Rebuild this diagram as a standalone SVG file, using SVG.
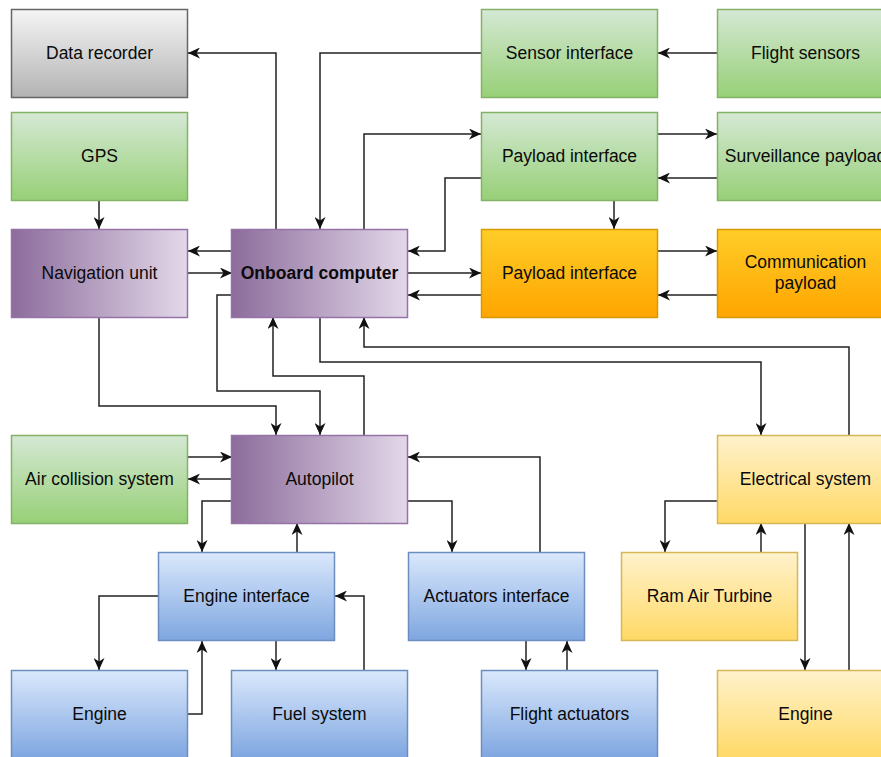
<svg xmlns="http://www.w3.org/2000/svg" width="881" height="757" viewBox="0 0 881 757">
  <defs>
    <linearGradient id="gGray" x1="0" y1="0" x2="0" y2="1">
      <stop offset="0" stop-color="#f5f5f5"/><stop offset="1" stop-color="#b3b3b3"/>
    </linearGradient>
    <linearGradient id="gGreen" x1="0" y1="0" x2="0" y2="1">
      <stop offset="0" stop-color="#d5e8d4"/><stop offset="1" stop-color="#97d077"/>
    </linearGradient>
    <linearGradient id="gPurple" x1="0" y1="0" x2="1" y2="0">
      <stop offset="0" stop-color="#8c6c9c"/><stop offset="1" stop-color="#e3d8e9"/>
    </linearGradient>
    <linearGradient id="gOrange" x1="0" y1="0" x2="0" y2="1">
      <stop offset="0" stop-color="#ffcd28"/><stop offset="1" stop-color="#ffa500"/>
    </linearGradient>
    <linearGradient id="gBlue" x1="0" y1="0" x2="0" y2="1">
      <stop offset="0" stop-color="#dae8fc"/><stop offset="1" stop-color="#7ea6e0"/>
    </linearGradient>
    <linearGradient id="gYellow" x1="0" y1="0" x2="0" y2="1">
      <stop offset="0" stop-color="#fff2cc"/><stop offset="1" stop-color="#ffd966"/>
    </linearGradient>
    <marker id="arrow" markerUnits="userSpaceOnUse" markerWidth="13" markerHeight="11" refX="12" refY="5.5" orient="auto">
      <path d="M0,0 L12,5.5 L0,11 L3.5,5.5 z" fill="#111"/>
    </marker>
  </defs>
  <style>
    .box { stroke-width: 1.5; }
    .gray { fill: url(#gGray); stroke: #666666; }
    .green { fill: url(#gGreen); stroke: #82b366; }
    .purple { fill: url(#gPurple); stroke: #9673a6; }
    .orange { fill: url(#gOrange); stroke: #d79b00; }
    .blue { fill: url(#gBlue); stroke: #6c8ebf; }
    .yellow { fill: url(#gYellow); stroke: #d6b656; }
    text { font-family: "Liberation Sans", Arial, sans-serif; font-size: 17.5px; fill: #0a0a0a; text-anchor: middle; }
    .bold { font-weight: bold; }
    .edge { fill: none; stroke: #222; stroke-width: 1.5; marker-end: url(#arrow); }
  </style>

  <!-- connectors -->
  <g id="connectors">
    <path class="edge" d="M276,229 V53 H188"/>
    <path class="edge" d="M481,53 H320 V229"/>
    <path class="edge" d="M364,229 V134 H481"/>
    <path class="edge" d="M717,53 H658"/>
    <path class="edge" d="M658,134 H717"/>
    <path class="edge" d="M717,178 H658"/>
    <path class="edge" d="M481,178 H445 V251 H408"/>
    <path class="edge" d="M614,200 V229"/>
    <path class="edge" d="M408,273 H481"/>
    <path class="edge" d="M481,295 H408"/>
    <path class="edge" d="M658,251 H717"/>
    <path class="edge" d="M717,295 H658"/>
    <path class="edge" d="M232,251 H188"/>
    <path class="edge" d="M188,273 H232"/>
    <path class="edge" d="M99,200 V229"/>
    <path class="edge" d="M99,317 V406 H276 V435"/>
    <path class="edge" d="M232,295 H217 V391 H320 V435"/>
    <path class="edge" d="M364,435 V376 H273 V317"/>
    <path class="edge" d="M849,435 V347 H364 V317"/>
    <path class="edge" d="M320,317 V362 H761 V435"/>
    <path class="edge" d="M188,457 H232"/>
    <path class="edge" d="M232,479 H188"/>
    <path class="edge" d="M232,501 H202 V552"/>
    <path class="edge" d="M297,552 V523"/>
    <path class="edge" d="M540,552 V457 H408"/>
    <path class="edge" d="M408,501 H452 V552"/>
    <path class="edge" d="M158,596 H99 V670"/>
    <path class="edge" d="M188,714 H202 V641"/>
    <path class="edge" d="M276,641 V670"/>
    <path class="edge" d="M364,670 V596 H335"/>
    <path class="edge" d="M526,641 V670"/>
    <path class="edge" d="M567,670 V641"/>
    <path class="edge" d="M717,501 H665 V552"/>
    <path class="edge" d="M761,552 V523"/>
    <path class="edge" d="M805,523 V670"/>
    <path class="edge" d="M849,670 V523"/>
  </g>

  <!-- top row -->
  <g id="data-recorder">
    <rect class="box gray" x="11.5" y="9.5" width="176" height="88"/>
    <text x="99.5" y="58.5">Data recorder</text>
  </g>
  <g id="sensor-interface">
    <rect class="box green" x="481.5" y="9.5" width="176" height="88"/>
    <text x="569.5" y="58.5">Sensor interface</text>
  </g>
  <g id="flight-sensors">
    <rect class="box green" x="717.5" y="9.5" width="176" height="88"/>
    <text x="805.5" y="58.5">Flight sensors</text>
  </g>

  <!-- second row -->
  <g id="gps">
    <rect class="box green" x="11.5" y="112.5" width="176" height="88"/>
    <text x="99.5" y="161.5">GPS</text>
  </g>
  <g id="payload-interface-surveillance">
    <rect class="box green" x="481.5" y="112.5" width="176" height="88"/>
    <text x="569.5" y="161.5">Payload interface</text>
  </g>
  <g id="surveillance-payload">
    <rect class="box green" x="717.5" y="112.5" width="176" height="88"/>
    <text x="805.5" y="161.5">Surveillance payload</text>
  </g>

  <!-- third row -->
  <g id="navigation-unit">
    <rect class="box purple" x="11.5" y="229.5" width="176" height="88"/>
    <text x="99.5" y="278.5">Navigation unit</text>
  </g>
  <g id="onboard-computer">
    <rect class="box purple" x="231.5" y="229.5" width="176" height="88"/>
    <text class="bold" x="319.5" y="278.5">Onboard computer</text>
  </g>
  <g id="payload-interface-communication">
    <rect class="box orange" x="481.5" y="229.5" width="176" height="88"/>
    <text x="569.5" y="278.5">Payload interface</text>
  </g>
  <g id="communication-payload">
    <rect class="box orange" x="717.5" y="229.5" width="176" height="88"/>
    <text x="805.5" y="267.5">Communication</text>
    <text x="805.5" y="288.5">payload</text>
  </g>

  <!-- fourth row -->
  <g id="air-collision-system">
    <rect class="box green" x="11.5" y="435.5" width="176" height="88"/>
    <text x="99.5" y="484.5">Air collision system</text>
  </g>
  <g id="autopilot">
    <rect class="box purple" x="231.5" y="435.5" width="176" height="88"/>
    <text x="319.5" y="484.5">Autopilot</text>
  </g>
  <g id="electrical-system">
    <rect class="box yellow" x="717.5" y="435.5" width="176" height="88"/>
    <text x="805.5" y="484.5">Electrical system</text>
  </g>

  <!-- fifth row -->
  <g id="engine-interface">
    <rect class="box blue" x="158.5" y="552.5" width="176" height="88"/>
    <text x="246.5" y="601.5">Engine interface</text>
  </g>
  <g id="actuators-interface">
    <rect class="box blue" x="408.5" y="552.5" width="176" height="88"/>
    <text x="496.5" y="601.5">Actuators interface</text>
  </g>
  <g id="ram-air-turbine">
    <rect class="box yellow" x="621.5" y="552.5" width="176" height="88"/>
    <text x="709.5" y="601.5">Ram Air Turbine</text>
  </g>

  <!-- bottom row -->
  <g id="engine">
    <rect class="box blue" x="11.5" y="670.5" width="176" height="88"/>
    <text x="99.5" y="719.5">Engine</text>
  </g>
  <g id="fuel-system">
    <rect class="box blue" x="231.5" y="670.5" width="176" height="88"/>
    <text x="319.5" y="719.5">Fuel system</text>
  </g>
  <g id="flight-actuators">
    <rect class="box blue" x="481.5" y="670.5" width="176" height="88"/>
    <text x="569.5" y="719.5">Flight actuators</text>
  </g>
  <g id="electrical-engine">
    <rect class="box yellow" x="717.5" y="670.5" width="176" height="88"/>
    <text x="805.5" y="719.5">Engine</text>
  </g>
</svg>
